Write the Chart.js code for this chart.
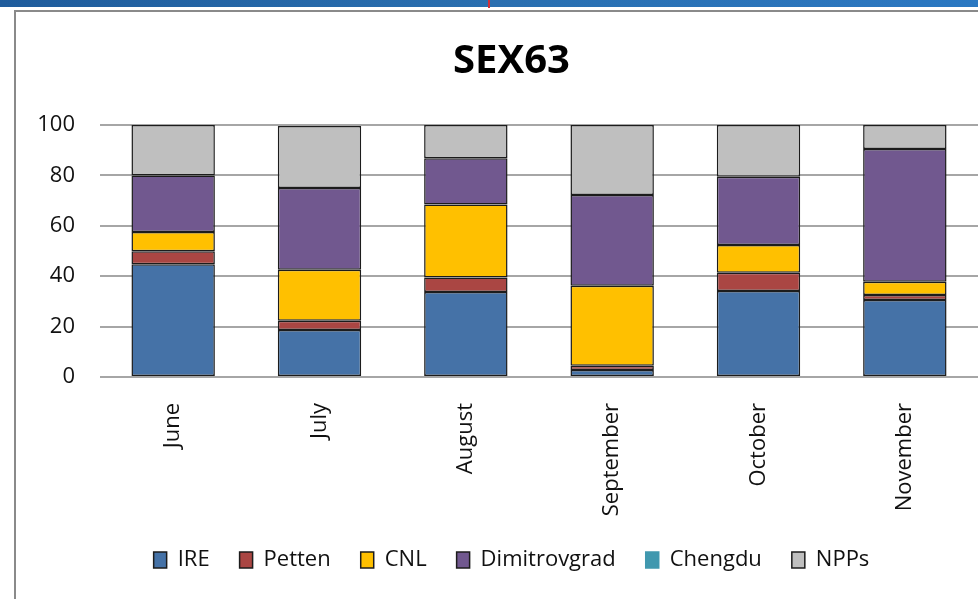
<!DOCTYPE html>
<html lang="en">

<head>
  <meta charset="UTF-8" />
  <title>SEX63</title>
  <script src="https://cdn.jsdelivr.net/npm/chart.js@4.4.0/dist/chart.umd.min.js"></script>
  <style>
    html, body { margin: 0; padding: 0; background: #fff; }
    #wrap { position: relative; width: 978px; height: 599px; overflow: hidden; }
    /* window chrome round the Excel chart */
    #topbar { position: absolute; left: 0; top: 0; width: 978px; height: 7px;
      background: linear-gradient(to right, #1f5c9c, #2a6fb0 50%, #2b78c2); }
    #marker { position: absolute; left: 488px; top: 0; width: 2px; height: 8px; background: #d0303a; }
    #frame { position: absolute; left: 14px; top: 10px; width: 980px; height: 600px;
      border-left: 2px solid #8a8a8a; border-top: 2px solid #8a8a8a; }
    canvas { position: absolute; left: 0; top: 0; }
  </style>
</head>

<body>
  <div id="wrap">
    <div id="topbar"></div>
    <div id="marker"></div>
    <div id="frame"></div>
    <canvas id="sexChart" width="978" height="599"></canvas>
  </div>

  <script>
    // values (percent)
    const months = ["June", "July", "August", "September", "October", "November"];
    const ire = [44.7, 18.7, 33.7, 2.8, 34.1, 30.6];
    const petten = [5.2, 3.6, 5.8, 1.7, 7.3, 1.9];
    const cnl = [7.6, 20.3, 29.0, 31.7, 11.0, 5.3];
    const dimitrovgrad = [22.5, 32.4, 18.3, 36.0, 27.1, 52.7];
    const chengdu = [0, 0, 0, 0, 0, 0];
    const npps = [20.0, 24.6, 13.2, 27.8, 20.5, 9.5];
    const yTicks = [0, 20, 40, 60, 80, 100];

    const font = "'Open Sans', 'DejaVu Sans', sans-serif";

    function series(label, data, color, edge) {
      return {
        label: label,
        data: data,
        backgroundColor: color,
        borderColor: edge || "#1c1c1c",
        borderWidth: 1.5,
        borderSkipped: false,
        barPercentage: 0.57,
        categoryPercentage: 1,
      };
    }

    // y labels are wider than the axis box, so widen the box after layout (labels stay right-aligned)
    const widenY = {
      id: "widenY",
      afterLayout(chart) { chart.scales.y.left = 5; },
    };

    const config = {
      type: "bar",
      data: {
        labels: months,
        datasets: [
          series("IRE", ire, "#4572a7"),
          series("Petten", petten, "#aa4643"),
          series("CNL", cnl, "#ffc000"),
          series("Dimitrovgrad", dimitrovgrad, "#71588f"),
          series("Chengdu", chengdu, "#4198af", "#4198af"),
          series("NPPs", npps, "#bfbfbf"),
        ],
      },
      options: {
        responsive: false,
        animation: false,
        layout: { padding: { left: 45, right: 0, top: 20, bottom: 18 } },
        plugins: {
          title: {
            display: true,
            text: "SEX63",
            color: "#000",
            font: { family: font, size: 40, weight: "bold" },
            padding: { top: 18, bottom: 39 },
          },
          legend: {
            position: "bottom",
            labels: {
              color: "#111",
              font: { family: font, size: 22 },
              boxWidth: 13,
              boxHeight: 16,
              padding: 30,
            },
          },
          tooltip: { enabled: false },
        },
        scales: {
          x: {
            stacked: true,
            grid: { display: false },
            border: { display: false },
            ticks: {
              color: "#111",
              font: { family: font, size: 22 },
              minRotation: 90,
              maxRotation: 90,
              padding: 18,
            },
            afterFit: (scale) => { scale.height = 142; },
          },
          y: {
            stacked: true,
            min: 0,
            max: 100,
            afterBuildTicks: (scale) => { scale.ticks = yTicks.map((v) => ({ value: v })); },
            grid: { color: "#a6a6a6", lineWidth: 2, drawTicks: false },
            border: { display: false },
            ticks: {
              color: "#111",
              font: { family: font, size: 22 },
              padding: 25,
            },
            afterFit: (scale) => { scale.width = 55; },
          },
        },
      },
      plugins: [widenY],
    };

    const sexChart = new Chart(document.getElementById("sexChart").getContext("2d"), config);
  </script>
</body>

</html>
